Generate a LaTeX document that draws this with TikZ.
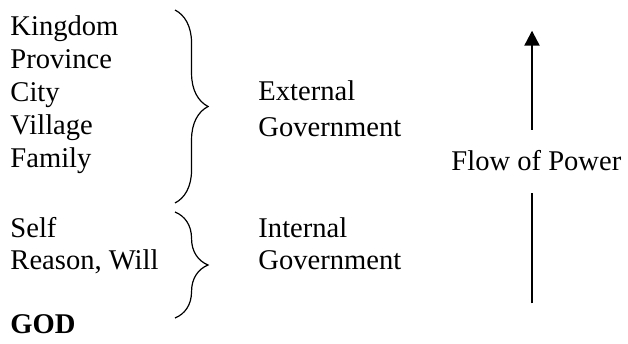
\documentclass[tikz,border=0pt]{standalone}
\usepackage{fontspec}
\setmainfont{Liberation Serif}
\usetikzlibrary{decorations.pathreplacing,arrows.meta}
\begin{document}
\begin{tikzpicture}[
    x=0.42pt, y=0.42pt,
    word/.style={
        anchor=base west,
        inner sep=0pt,
        font=\fontsize{12}{13.86}\selectfont
    },
    bracket/.style={
        decorate,
        decoration={brace, amplitude=13.9pt, aspect=0.5},
        line width=0.5pt
    },
    flowline/.style={
        -{Triangle[width=6.3pt, length=6.3pt]},
        line width=0.95pt
    }
]
\useasboundingbox (0,0) rectangle (628,343);

% Levels of government, top to bottom
\node[word] (kingdom)  at (10,307) {Kingdom};
\node[word] (province) at (10,274) {Province};
\node[word] (city)     at (10,241) {City};
\node[word] (village)  at (10,208) {Village};
\node[word] (family)   at (10,175) {Family};
\node[word] (self)     at (10,105) {Self};
\node[word] (reason)   at (10,74)  {Reason, Will};
\node[word, font=\fontsize{12}{13.86}\selectfont\bfseries] (god) at (10,10) {GOD};

% Braces and their labels
\coordinate (exttop) at (175,333);
\coordinate (extbot) at (175,140);
\coordinate (inttop) at (175,131);
\coordinate (intbot) at (175,25);
\draw[bracket] (exttop) -- (extbot);
\draw[bracket] (inttop) -- (intbot);
\node[word] (external) at (258,242) {External};
\node[word] (extgov)   at (258,206) {Government};
\node[word] (internal) at (258,105) {Internal};
\node[word] (intgov)   at (258,74)  {Government};

% Flow of power
\node[word] (power) at (451,172) {Flow of Power};
\coordinate (flowbot) at (532,39.7);
\coordinate (flowmid) at (532,150.3);
\coordinate (flowgap) at (532,213);
\coordinate (flowtop) at (532,312.3);
\draw[line width=0.95pt] (flowbot) -- (flowmid);
\draw[flowline] (flowgap) -- (flowtop);
\end{tikzpicture}
\end{document}
